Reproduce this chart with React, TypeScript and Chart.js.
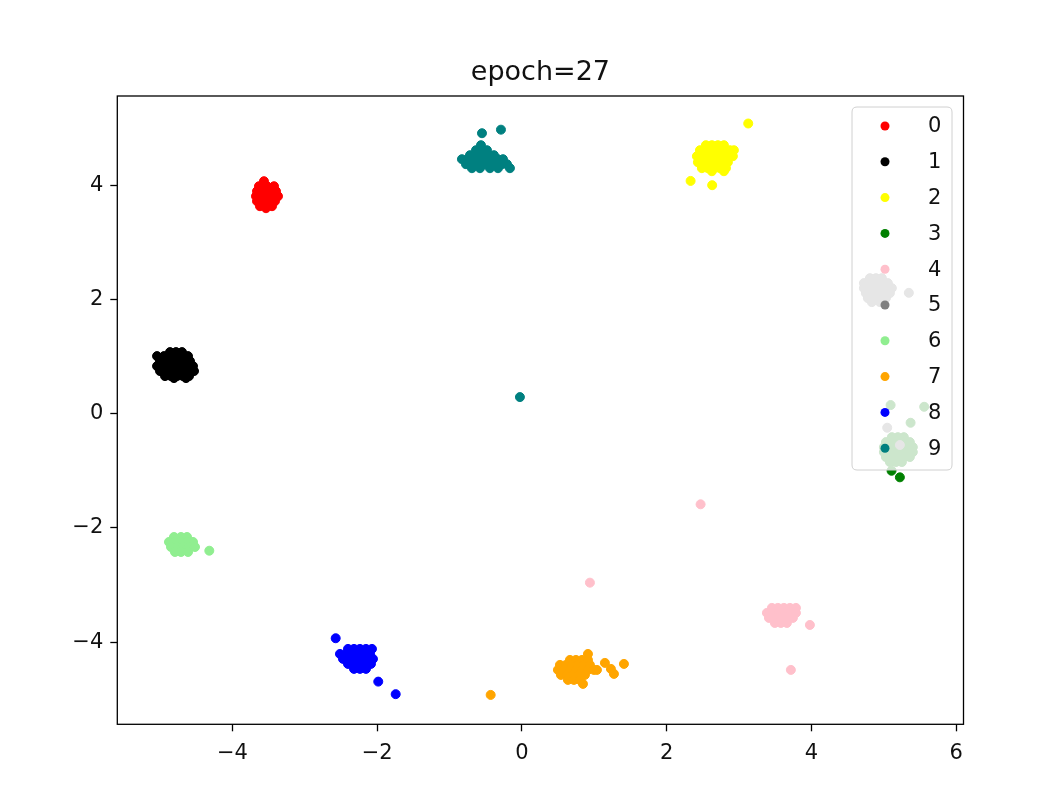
import React, { useEffect, useRef } from "react";
import { Chart, registerables } from "chart.js";

Chart.register(...registerables);

type P = [number, number];

const titleText = "epoch=27";
const classLabels = ["0", "1", "2", "3", "4", "5", "6", "7", "8", "9"];
const classColors = ["#ff0000", "#000000", "#ffff00", "#008000", "#ffc0cb", "#808080", "#90ee90", "#ffa500", "#0000ff", "#008080"];
const xTicks = [-4, -2, 0, 2, 4, 6];
const yTicks = [-4, -2, 0, 2, 4];
const xRange = [-5.59, 6.1];
const yRange = [-5.44, 5.57];

// class 0 (red)
const cls0: P[] = [
  [-3.564, 4.077],
  [-3.633, 3.989], [-3.522, 3.989], [-3.425, 3.989],
  [-3.66, 3.902], [-3.577, 3.902], [-3.494, 3.902], [-3.398, 3.902],
  [-3.674, 3.814], [-3.591, 3.814], [-3.508, 3.814], [-3.425, 3.814], [-3.37, 3.814],
  [-3.66, 3.727], [-3.577, 3.727], [-3.494, 3.727], [-3.412, 3.727],
  [-3.619, 3.639], [-3.536, 3.639], [-3.453, 3.639],
  [-3.536, 3.604],
];

// class 1 (black)
const cls1: P[] = [
  [-4.862, 1.082], [-4.779, 1.082], [-4.696, 1.082],
  [-5.041, 1.012], [-4.945, 1.012], [-4.862, 1.012], [-4.779, 1.012], [-4.696, 1.012], [-4.613, 1.012],
  [-5.0, 0.925], [-4.917, 0.925], [-4.834, 0.925], [-4.751, 0.925], [-4.669, 0.925], [-4.586, 0.925],
  [-5.041, 0.837], [-4.959, 0.837], [-4.876, 0.837], [-4.793, 0.837], [-4.71, 0.837], [-4.627, 0.837], [-4.544, 0.837],
  [-5.0, 0.75], [-4.917, 0.75], [-4.834, 0.75], [-4.751, 0.75], [-4.669, 0.75], [-4.586, 0.75], [-4.53, 0.75],
  [-4.931, 0.662], [-4.848, 0.662], [-4.765, 0.662], [-4.682, 0.662], [-4.599, 0.662],
  [-4.807, 0.627], [-4.641, 0.627],
];

// class 2 (yellow)
const cls2: P[] = [
  [2.541, 4.708], [2.624, 4.708], [2.707, 4.708], [2.79, 4.708],
  [2.459, 4.62], [2.541, 4.62], [2.624, 4.62], [2.707, 4.62], [2.79, 4.62], [2.873, 4.62], [2.928, 4.62],
  [2.417, 4.515], [2.5, 4.515], [2.583, 4.515], [2.666, 4.515], [2.749, 4.515], [2.831, 4.515], [2.914, 4.515],
  [2.431, 4.41], [2.514, 4.41], [2.597, 4.41], [2.68, 4.41], [2.762, 4.41], [2.845, 4.41],
  [2.486, 4.305], [2.569, 4.305], [2.652, 4.305], [2.735, 4.305], [2.818, 4.305],
  [2.624, 4.252], [2.79, 4.252],
  [2.33, 4.082], [2.628, 4.007], [3.126, 5.088],
];

// class 3 (green)
const cls3: P[] = [
  [5.11, -0.408], [5.193, -0.408], [5.276, -0.408],
  [5.028, -0.495], [5.11, -0.495], [5.193, -0.495], [5.276, -0.495], [5.359, -0.495],
  [5.0, -0.583], [5.083, -0.583], [5.166, -0.583], [5.249, -0.583], [5.331, -0.583], [5.4, -0.583],
  [5.0, -0.67], [5.083, -0.67], [5.166, -0.67], [5.249, -0.67], [5.331, -0.67], [5.4, -0.67],
  [5.028, -0.757], [5.11, -0.757], [5.193, -0.757], [5.276, -0.757], [5.359, -0.757],
  [5.083, -0.844], [5.166, -0.844], [5.249, -0.844],
  [5.093, 0.154], [5.557, 0.124], [5.369, -0.156], [5.221, -1.112], [5.106, -0.997],
];

// class 4 (pink)
const cls4: P[] = [
  [3.453, -3.4], [3.536, -3.4], [3.619, -3.4], [3.702, -3.4], [3.785, -3.4],
  [3.384, -3.488], [3.467, -3.488], [3.55, -3.488], [3.633, -3.488], [3.715, -3.488], [3.785, -3.488],
  [3.412, -3.576], [3.494, -3.576], [3.577, -3.576], [3.66, -3.576], [3.743, -3.576],
  [3.494, -3.664], [3.577, -3.664], [3.66, -3.664],
  [3.978, -3.699], [3.715, -4.487], [2.468, -1.585], [0.939, -2.958],
];

// class 5 (gray)
const cls5: P[] = [
  [4.807, 2.378], [4.89, 2.378], [4.972, 2.378],
  [4.724, 2.291], [4.807, 2.291], [4.89, 2.291], [4.972, 2.291], [5.055, 2.291],
  [4.724, 2.203], [4.807, 2.203], [4.89, 2.203], [4.972, 2.203], [5.055, 2.203], [5.11, 2.203],
  [4.751, 2.116], [4.834, 2.116], [4.917, 2.116], [5.0, 2.116], [5.083, 2.116],
  [4.779, 2.028], [4.862, 2.028], [4.945, 2.028], [5.028, 2.028],
  [4.834, 1.958], [4.945, 1.958],
  [5.345, 2.121], [5.046, -0.243], [5.221, -0.546],
];

// class 6 (light green)
const cls6: P[] = [
  [-4.807, -2.158], [-4.71, -2.158], [-4.627, -2.158],
  [-4.876, -2.245], [-4.793, -2.245], [-4.71, -2.245], [-4.627, -2.245], [-4.544, -2.245],
  [-4.848, -2.333], [-4.765, -2.333], [-4.682, -2.333], [-4.599, -2.333], [-4.517, -2.333],
  [-4.793, -2.42], [-4.71, -2.42], [-4.613, -2.42],
  [-4.319, -2.398],
];

// class 7 (orange)
const cls7: P[] = [
  [0.912, -4.207],
  [0.663, -4.312], [0.746, -4.312], [0.829, -4.312], [0.912, -4.312],
  [0.525, -4.399], [0.608, -4.399], [0.691, -4.399], [0.773, -4.399], [0.856, -4.399], [0.939, -4.399],
  [0.497, -4.487], [0.58, -4.487], [0.663, -4.487], [0.746, -4.487], [0.829, -4.487], [0.912, -4.487], [0.994, -4.487],
  [0.539, -4.575], [0.622, -4.575], [0.704, -4.575], [0.787, -4.575], [0.87, -4.575],
  [0.635, -4.662], [0.718, -4.662], [0.801, -4.662],
  [0.843, -4.732],
  [1.036, -4.487], [1.146, -4.364], [1.229, -4.469], [1.271, -4.557], [1.409, -4.382],
  [-0.432, -4.925],
];

// class 8 (blue)
const cls8: P[] = [
  [-2.403, -4.119], [-2.32, -4.119], [-2.238, -4.119], [-2.155, -4.119], [-2.072, -4.119],
  [-2.514, -4.207], [-2.431, -4.207], [-2.348, -4.207], [-2.265, -4.207], [-2.182, -4.207], [-2.099, -4.207],
  [-2.472, -4.294], [-2.39, -4.294], [-2.307, -4.294], [-2.224, -4.294], [-2.141, -4.294], [-2.058, -4.294],
  [-2.403, -4.382], [-2.32, -4.382], [-2.238, -4.382], [-2.155, -4.382], [-2.086, -4.382],
  [-2.32, -4.469], [-2.238, -4.469], [-2.155, -4.469],
  [-2.573, -3.932], [-1.985, -4.692], [-1.744, -4.912],
];

// class 9 (teal)
const cls9: P[] = [
  [-0.566, 4.708],
  [-0.635, 4.62], [-0.552, 4.62], [-0.483, 4.62],
  [-0.718, 4.533], [-0.635, 4.533], [-0.552, 4.533], [-0.47, 4.533], [-0.387, 4.533],
  [-0.829, 4.463], [-0.746, 4.463], [-0.663, 4.463], [-0.58, 4.463], [-0.497, 4.463], [-0.414, 4.463], [-0.331, 4.463], [-0.262, 4.463],
  [-0.773, 4.375], [-0.691, 4.375], [-0.608, 4.375], [-0.525, 4.375], [-0.442, 4.375], [-0.359, 4.375], [-0.276, 4.375], [-0.207, 4.375],
  [-0.691, 4.305], [-0.58, 4.305], [-0.442, 4.305], [-0.331, 4.305], [-0.166, 4.305],
  [-0.552, 4.918], [-0.29, 4.98],
  [-0.028, 0.294],
];

const clusters: P[][] = [cls0, cls1, cls2, cls3, cls4, cls5, cls6, cls7, cls8, cls9];

const FONT = '"DejaVu Sans", sans-serif';

const fmt = (v: number | string) => {
  const n = Number(v);
  return n < 0 ? "\u2212" + Math.abs(n) : String(n);
};

const overlayPlugin = {
  id: "overlay",
  afterDraw(chart: any) {
    const { ctx, chartArea: a } = chart;
    ctx.save();
    // spines
    ctx.strokeStyle = "#000";
    ctx.lineWidth = 1.3;
    ctx.strokeRect(a.left, a.top, a.right - a.left, a.bottom - a.top);
    // title
    ctx.fillStyle = "#111";
    ctx.font = `27px ${FONT}`;
    ctx.textAlign = "center";
    ctx.textBaseline = "alphabetic";
    ctx.fillText(titleText, (a.left + a.right) / 2, a.top - 16);
    // legend
    const lx = a.right - 111.5;
    const ly = a.top + 11;
    const lw = 100;
    const lh = 363;
    const r = 5;
    ctx.beginPath();
    ctx.moveTo(lx + r, ly);
    ctx.lineTo(lx + lw - r, ly);
    ctx.quadraticCurveTo(lx + lw, ly, lx + lw, ly + r);
    ctx.lineTo(lx + lw, ly + lh - r);
    ctx.quadraticCurveTo(lx + lw, ly + lh, lx + lw - r, ly + lh);
    ctx.lineTo(lx + r, ly + lh);
    ctx.quadraticCurveTo(lx, ly + lh, lx, ly + lh - r);
    ctx.lineTo(lx, ly + r);
    ctx.quadraticCurveTo(lx, ly, lx + r, ly);
    ctx.closePath();
    ctx.fillStyle = "rgba(255,255,255,0.8)";
    ctx.fill();
    ctx.strokeStyle = "#d0d0d0";
    ctx.lineWidth = 1;
    ctx.stroke();
    ctx.font = `21px ${FONT}`;
    ctx.textAlign = "left";
    ctx.textBaseline = "middle";
    classLabels.forEach((lab, i) => {
      const cy = ly + 19 + i * 35.8;
      ctx.beginPath();
      ctx.arc(lx + 33, cy, 4.5, 0, Math.PI * 2);
      ctx.fillStyle = classColors[i];
      ctx.fill();
      ctx.fillStyle = "#111";
      ctx.fillText(lab, lx + 76, cy + 1);
    });
    ctx.restore();
  },
};

export default function App() {
  const ref = useRef<HTMLCanvasElement | null>(null);
  useEffect(() => {
    if (!ref.current) return;
    const chart = new Chart(ref.current, {
      type: "scatter",
      data: {
        datasets: clusters.map((pts, i) => ({
          label: classLabels[i],
          data: pts.map(([x, y]) => ({ x, y })),
          backgroundColor: classColors[i],
          borderColor: classColors[i],
          borderWidth: 1,
          pointRadius: 4.5,
          pointHoverRadius: 4.5,
          order: 9 - i,
        })),
      },
      options: {
        responsive: false,
        animation: false,
        events: [],
        layout: { padding: { top: 96, right: 87.5, left: 0, bottom: 0 } },
        plugins: {
          legend: { display: false },
          tooltip: { enabled: false },
          title: { display: false },
        },
        scales: {
          x: {
            type: "linear",
            min: xRange[0],
            max: xRange[1],
            afterBuildTicks: (s: any) => {
              s.ticks = xTicks.map((v) => ({ value: v }));
            },
            afterFit: (s: any) => {
              s.height = 75.7;
            },
            grid: { display: true, drawOnChartArea: false, drawTicks: true, tickLength: 7, tickColor: "#000", tickWidth: 1.3 },
            border: { display: false },
            ticks: {
              color: "#111",
              font: { family: FONT, size: 21 },
              padding: 10,
              maxRotation: 0,
              autoSkip: false,
              callback: (v: any) => fmt(v),
            },
          },
          y: {
            type: "linear",
            min: yRange[0],
            max: yRange[1],
            afterBuildTicks: (s: any) => {
              s.ticks = yTicks.map((v) => ({ value: v }));
            },
            afterFit: (s: any) => {
              s.width = 117.3;
            },
            grid: { display: true, drawOnChartArea: false, drawTicks: true, tickLength: 7, tickColor: "#000", tickWidth: 1.3 },
            border: { display: false },
            ticks: {
              color: "#111",
              font: { family: FONT, size: 21 },
              padding: 7,
              autoSkip: false,
              callback: (v: any) => fmt(v),
            },
          },
        },
      },
      plugins: [overlayPlugin],
    } as any);
    return () => chart.destroy();
  }, []);
  return (
    <div style={{ position: "absolute", left: 0, top: 0, width: 1051, height: 800, background: "#fff" }}>
      <canvas ref={ref} width={1051} height={800} style={{ display: "block" }} />
    </div>
  );
}
